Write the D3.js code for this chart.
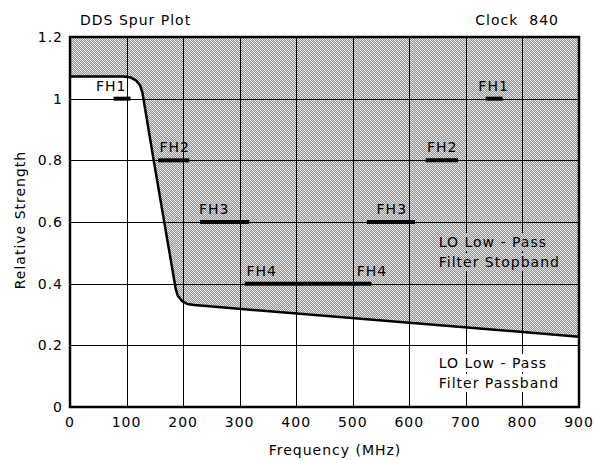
<!DOCTYPE html>
<html>
<head>
<meta charset="utf-8">
<script src="https://cdn.jsdelivr.net/npm/d3@7"></script>
<style>
  body { margin: 0; background: #fff; }
  text { font-family: "DejaVu Sans", sans-serif; font-size: 14px; letter-spacing: 1px; fill: #000; }
</style>
</head>
<body>
<div id="wrapper"></div>
<script>
// filter boundary (MHz, relative strength)
const curveFreq = [0, 94.7, 107.6, 117.2, 124, 128, 148, 186.9, 190.7, 197.5, 207.3, 219.9, 900];
const curveStrength = [1.072, 1.072, 1.0685, 1.0585, 1.0425, 1.02, 0.8, 0.383, 0.3606, 0.3443, 0.3344, 0.3305, 0.228];

// spur bands
const spurNames = ["FH1", "FH1", "FH2", "FH2", "FH3", "FH3", "FH4", "FH4"];
const spurLevel = [1.0, 1.0, 0.8, 0.8, 0.6, 0.6, 0.4, 0.4];
const spurStart = [77, 735, 156, 629, 230, 525, 309, 420];
const spurEnd = [107, 765, 211, 686, 317, 610, 420, 533];
const spurLabelFreq = [73, 749, 185, 658, 255, 569, 339, 534];

const xTicks = [0, 100, 200, 300, 400, 500, 600, 700, 800, 900];
const yTicks = [0, 0.2, 0.4, 0.6, 0.8, 1, 1.2];

const stopbandText = ["LO Low - Pass", "Filter Stopband"];
const passbandText = ["LO Low - Pass", "Filter Passband"];
const regionLabelFreq = 652;
const stopbandLevels = [0.519, 0.454];
const passbandLevels = [0.1265, 0.0616];

let dimensions = {
	width: 595,
	height: 460,
	margin: { top: 37, right: 16, bottom: 53, left: 70 }
};
dimensions.boundedWidth = dimensions.width - dimensions.margin.left - dimensions.margin.right;
dimensions.boundedHeight = dimensions.height - dimensions.margin.top - dimensions.margin.bottom;

const svg = d3.select("#wrapper").append("svg")
	.attr("width", dimensions.width)
	.attr("height", dimensions.height);

// dither-like hatch used for the stopband
const defs = svg.append("defs");
const pat = defs.append("pattern")
	.attr("id", "hatch")
	.attr("patternUnits", "userSpaceOnUse")
	.attr("width", 4).attr("height", 4);
pat.append("rect").attr("width", 4).attr("height", 4).attr("fill", "#d6d6d6");
const darkPx = [[0, 0], [2, 0], [1, 1], [3, 1], [0, 2], [2, 2], [1, 3], [3, 3]];
const lightPx = [[1, 0], [2, 1], [3, 2], [0, 3]];
darkPx.forEach(([px, py]) => pat.append("rect").attr("x", px).attr("y", py)
	.attr("width", 1).attr("height", 1).attr("fill", "#929292"));
lightPx.forEach(([px, py]) => pat.append("rect").attr("x", px).attr("y", py)
	.attr("width", 1).attr("height", 1).attr("fill", "#f2f2f2"));

const bounds = svg.append("g")
	.attr("transform", `translate(${dimensions.margin.left},${dimensions.margin.top})`);

const xScale = d3.scaleLinear().domain([0, 900]).range([0, dimensions.boundedWidth]);
const yScale = d3.scaleLinear().domain([0, 1.2]).range([dimensions.boundedHeight, 0]);

const curveData = curveFreq.map((f, i) => ({ f: f, s: curveStrength[i] }));

// stopband fill
const areaGenerator = d3.area()
	.x(d => xScale(d.f))
	.y0(yScale(1.2))
	.y1(d => yScale(d.s));
bounds.append("path")
	.attr("d", areaGenerator(curveData))
	.attr("fill", "url(#hatch)");

// grid
bounds.append("g").selectAll("line").data(xTicks).join("line")
	.attr("x1", d => Math.round(xScale(d)) + 0.5).attr("x2", d => Math.round(xScale(d)) + 0.5)
	.attr("y1", 0).attr("y2", dimensions.boundedHeight)
	.attr("stroke", "#000").attr("stroke-width", 1);
bounds.append("g").selectAll("line").data(yTicks).join("line")
	.attr("y1", d => Math.round(yScale(d)) + 0.5).attr("y2", d => Math.round(yScale(d)) + 0.5)
	.attr("x1", 0).attr("x2", dimensions.boundedWidth)
	.attr("stroke", "#000").attr("stroke-width", 1);

// region labels
function regionLabel(lines, levels, fill) {
	const g = bounds.append("g");
	const texts = lines.map((t, i) => g.append("text")
		.attr("x", xScale(regionLabelFreq))
		.attr("y", yScale(levels[i]))
		.text(t));
	texts.forEach(t => {
		const b = t.node().getBBox();
		g.insert("rect", "text")
			.attr("x", b.x - 3).attr("y", b.y - 1)
			.attr("width", b.width + 4).attr("height", b.height + 2)
			.attr("fill", fill);
	});
}
regionLabel(stopbandText, stopbandLevels, "url(#hatch)");
regionLabel(passbandText, passbandLevels, "#fff");

// filter boundary
const lineGenerator = d3.line()
	.x(d => xScale(d.f))
	.y(d => yScale(d.s));
bounds.append("path")
	.attr("d", lineGenerator(curveData))
	.attr("fill", "none")
	.attr("stroke", "#000")
	.attr("stroke-width", 2.5)
	.attr("stroke-linejoin", "round");

// spur bars
bounds.append("g").selectAll("line").data(spurNames).join("line")
	.attr("x1", (d, i) => xScale(spurStart[i]))
	.attr("x2", (d, i) => xScale(spurEnd[i]))
	.attr("y1", (d, i) => yScale(spurLevel[i]))
	.attr("y2", (d, i) => yScale(spurLevel[i]))
	.attr("stroke", "#000")
	.attr("stroke-width", 4);
bounds.append("g").selectAll("text").data(spurNames).join("text")
	.attr("x", (d, i) => xScale(spurLabelFreq[i]))
	.attr("y", (d, i) => yScale(spurLevel[i]) - 8)
	.attr("text-anchor", "middle")
	.text(d => d);

// frame
bounds.append("rect")
	.attr("x", 0).attr("y", 0)
	.attr("width", dimensions.boundedWidth)
	.attr("height", dimensions.boundedHeight)
	.attr("fill", "none")
	.attr("stroke", "#000")
	.attr("stroke-width", 2.5);

// tick labels
bounds.append("g").selectAll("text").data(xTicks).join("text")
	.attr("x", d => xScale(d))
	.attr("y", dimensions.boundedHeight + 20)
	.attr("text-anchor", "middle")
	.text(d => d);
bounds.append("g").selectAll("text").data(yTicks).join("text")
	.attr("x", -7)
	.attr("y", d => yScale(d))
	.attr("dy", "0.36em")
	.attr("text-anchor", "end")
	.text(d => d);

// titles
svg.append("text").attr("x", 80).attr("y", 25).text("DDS Spur Plot");
svg.append("text").attr("x", 559).attr("y", 25).attr("text-anchor", "end")
	.style("white-space", "pre").text("Clock  840");
svg.append("text")
	.attr("x", 335).attr("y", 455)
	.attr("text-anchor", "middle")
	.text("Frequency (MHz)");
svg.append("text")
	.attr("transform", "translate(25,220) rotate(-90)")
	.attr("text-anchor", "middle")
	.text("Relative Strength");
</script>
</body>
</html>
